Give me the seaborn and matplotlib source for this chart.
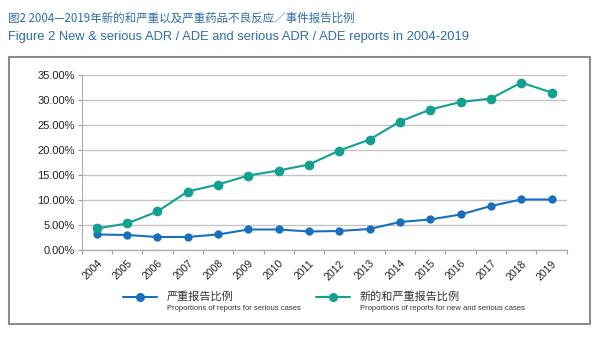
import matplotlib
matplotlib.use("Agg")
import matplotlib.pyplot as plt
from matplotlib.patches import Rectangle
from matplotlib.ticker import FuncFormatter, FixedLocator
import seaborn as sns
import pandas as pd

years = ["2004", "2005", "2006", "2007", "2008", "2009", "2010", "2011",
         "2012", "2013", "2014", "2015", "2016", "2017", "2018", "2019"]
serious = [3.1, 3.0, 2.6, 2.6, 3.1, 4.1, 4.1, 3.7, 3.8, 4.2, 5.6, 6.1, 7.1, 8.8, 10.1, 10.1]
new_serious = [4.3, 5.3, 7.7, 11.7, 13.1, 14.9, 15.9, 17.1, 19.9, 22.1, 25.7, 28.1, 29.6, 30.3, 33.5, 31.5]
yticks = [0, 5, 10, 15, 20, 25, 30, 35]

series_cn = ["严重报告比例", "新的和严重报告比例"]
series_en = ["Proportions of reports for serious cases",
             "Proportions of reports for new and serious cases"]
colors = ["#1a6fbd", "#12a08f"]

sns.set_theme(style="white")
plt.rcParams["font.family"] = ["Liberation Sans", "Noto Sans CJK SC", "DejaVu Sans"]

rows = []
for i, y in enumerate(years):
    rows.append({"pos": i, "year": y, "val": serious[i], "series": series_cn[0]})
    rows.append({"pos": i, "year": y, "val": new_serious[i], "series": series_cn[1]})
df = pd.DataFrame(rows)

fig = plt.figure(figsize=(6.0, 3.38), dpi=100)
ax = fig.add_axes([0.136, 0.2604, 0.8085, 0.5176])

for s, c, ms in zip(series_cn, colors, [6, 7]):
    sub = df[df["series"] == s]
    sns.lineplot(data=sub, x="pos", y="val", ax=ax, color=c, linewidth=1.5,
                 marker="o", markersize=ms, markeredgewidth=0, legend=False)

ax.set_xlim(-0.5, len(years) - 0.5)
ax.set_ylim(0, 35)
ax.set_yticks(yticks)
ax.yaxis.set_major_formatter(FuncFormatter(lambda v, p: f"{v:.2f}%"))
ax.set_xticks(range(len(years)))
ax.set_xticklabels(years, rotation=45, ha="right", rotation_mode="anchor",
                   fontsize=7.5, family=["Liberation Sans Narrow", "Liberation Sans", "DejaVu Sans"])
ax.xaxis.set_minor_locator(FixedLocator([i - 0.5 for i in range(len(years) + 1)]))
ax.tick_params(axis="x", which="major", length=0, pad=6)
ax.tick_params(axis="x", which="minor", length=3, width=0.8, color="#9a9a9a", bottom=True)
ax.tick_params(axis="y", length=3, width=0.8, color="#9a9a9a", left=True, labelsize=8, pad=2)
for lab in ax.get_yticklabels():
    lab.set_color("#222222")
for lab in ax.get_xticklabels():
    lab.set_color("#222222")
ax.set_xlabel("")
ax.set_ylabel("")
ax.grid(axis="y", color="#c4c4c4", linewidth=1.0)
ax.set_axisbelow(True)
for sp in ["top", "right"]:
    ax.spines[sp].set_visible(False)
ax.spines["bottom"].set_color("#b0b0b0")
ax.spines["left"].set_color("#b0b0b0")
ax.spines["left"].set_linewidth(0.8)
ax.spines["bottom"].set_linewidth(1.0)

# outer frame
fig.patches.append(Rectangle((9 / 600, 1 - 324 / 338), 581 / 600, 267 / 338,
                             transform=fig.transFigure, fill=False,
                             edgecolor="#8c8c8c", linewidth=1.5))

# titles
tcol = "#2f6ca6"
fig.text(8 / 600, 1 - 18 / 338, "图2 2004—2019年新的和严重以及严重药品不良反应／事件报告比例",
         color=tcol, fontsize=8.3, va="center", ha="left",
         family=["Noto Sans CJK SC", "DejaVu Sans"])
fig.text(8 / 600, 1 - 37 / 338, "Figure 2 New & serious ADR / ADE and serious ADR / ADE reports in 2004-2019",
         color=tcol, fontsize=9.3, va="center", ha="left",
         family=["Liberation Sans", "DejaVu Sans"])

# legend (manual, in figure coords)
leg_items = [(123, 167), (316, 360)]
for (x0, xt), c, cn, en in zip(leg_items, colors, series_cn, series_en):
    yl = 1 - 297 / 338
    fig.add_artist(plt.Line2D([x0 / 600, (x0 + 34) / 600], [yl, yl], transform=fig.transFigure,
                              color=c, linewidth=1.5))
    fig.add_artist(plt.Line2D([(x0 + 17) / 600], [yl], transform=fig.transFigure,
                              color=c, marker="o", markersize=6.5, markeredgewidth=0))
    fig.text(xt / 600, 1 - 296 / 338, cn, fontsize=8, color="#333333",
             va="center", ha="left", family=["Noto Sans CJK SC", "DejaVu Sans"])
    fig.text(xt / 600, 1 - 308 / 338, en, fontsize=5.5, color="#333333",
             va="center", ha="left", family=["Liberation Sans Narrow", "Liberation Sans", "DejaVu Sans"])

fig.savefig("out.png", dpi=100)
